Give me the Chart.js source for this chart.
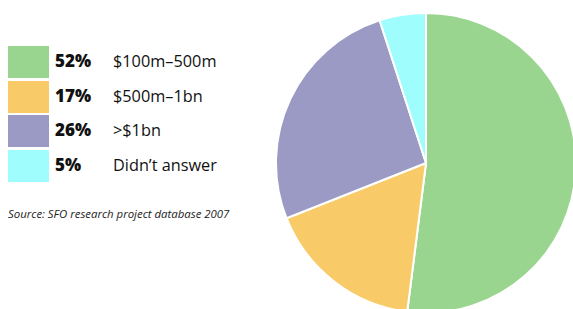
<!DOCTYPE html>
<html><head><meta charset="utf-8">
<script src="https://cdn.jsdelivr.net/npm/chart.js@4/dist/chart.umd.min.js"></script>
<style>
html,body{margin:0;padding:0;background:#fff;width:573px;height:309px;overflow:hidden;position:relative;font-family:"Open Sans",sans-serif;color:#111;}
#wrap{position:absolute;left:275px;top:12px;width:302px;height:302px;}
#legend{position:absolute;left:8px;top:46px;}
.row{position:relative;height:34.5px;width:260px;}
.sw{position:absolute;left:0;top:0;width:41px;height:32px;}
.pct{position:absolute;left:47px;top:-1px;line-height:32px;font-weight:800;font-size:17px;white-space:nowrap;}
.lab{position:absolute;left:105px;top:-1px;line-height:32px;font-size:16.3px;white-space:nowrap;}
#src{position:absolute;left:8px;top:206px;font-style:italic;font-size:11.4px;color:#222;white-space:nowrap;}
</style></head><body>
<div id="legend"></div>
<div id="src">Source: SFO research project database 2007</div>
<div id="wrap"><canvas id="c"></canvas></div>
<script>
const categories = ["$100m\u2013500m", "$500m\u20131bn", ">$1bn", "Didn\u2019t answer"];
const values = [52, 17, 26, 5];
const valueLabels = ["52%", "17%", "26%", "5%"];
const colors = ["#9ad58f", "#f8cb68", "#9a9ac4", "#9ffdfe"];

const lg = document.getElementById('legend');
categories.forEach((c, i) => {
  const r = document.createElement('div'); r.className = 'row';
  const s = document.createElement('div'); s.className = 'sw'; s.style.background = colors[i];
  const p = document.createElement('div'); p.className = 'pct'; p.textContent = valueLabels[i];
  const l = document.createElement('div'); l.className = 'lab'; l.textContent = c;
  r.appendChild(s); r.appendChild(p); r.appendChild(l); lg.appendChild(r);
});

new Chart(document.getElementById('c'), {
  type: 'pie',
  data: { labels: categories, datasets: [{ data: values, backgroundColor: colors, borderColor: '#fff', borderWidth: 2 }] },
  options: {
    responsive: true, maintainAspectRatio: false, animation: false,
    layout: { padding: 0 },
    plugins: { legend: { display: false }, tooltip: { enabled: false } }
  }
});
</script>
</body></html>
